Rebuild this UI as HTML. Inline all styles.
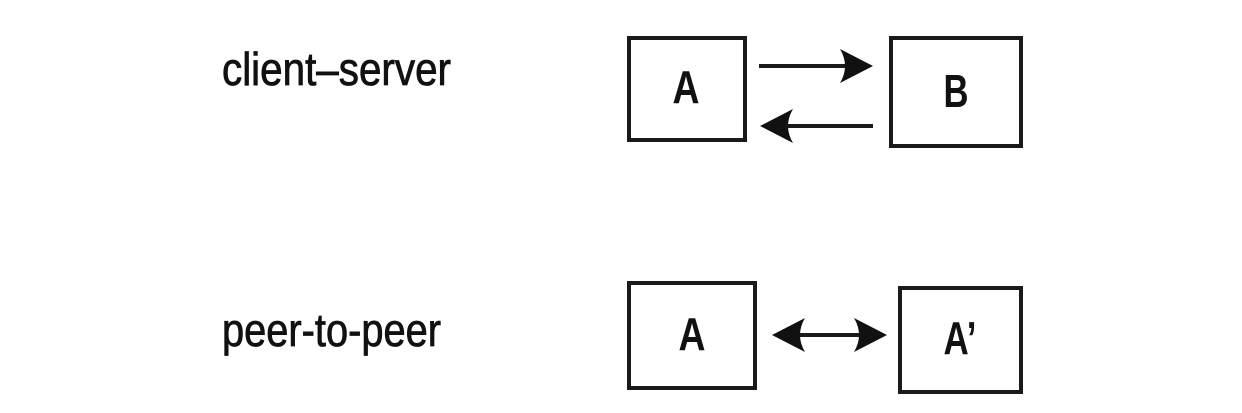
<!DOCTYPE html>
<html><head><meta charset="utf-8"><style>html,body{margin:0;padding:0;background:#fff}svg{display:block}</style></head>
<body>
<svg width="1242" height="413" viewBox="0 0 1242 413" xmlns="http://www.w3.org/2000/svg">
<g font-family="'Liberation Sans Narrow','Liberation Sans',sans-serif" fill="#111">
<text x="222" y="85" font-size="46" stroke="#111" stroke-width="0.8" textLength="229" lengthAdjust="spacingAndGlyphs">client–server</text>
<text x="222" y="346" font-size="46" stroke="#111" stroke-width="0.8" textLength="219" lengthAdjust="spacingAndGlyphs">peer-to-peer</text>
<text x="686" y="103" font-size="46" font-weight="bold" text-anchor="middle" textLength="27" lengthAdjust="spacingAndGlyphs">A</text>
<text x="956" y="107" font-size="46" font-weight="bold" text-anchor="middle" textLength="25" lengthAdjust="spacingAndGlyphs">B</text>
<text x="692" y="350" font-size="46" font-weight="bold" text-anchor="middle" textLength="27" lengthAdjust="spacingAndGlyphs">A</text>
<text x="960" y="354" font-size="46" font-weight="bold" text-anchor="middle" textLength="33" lengthAdjust="spacingAndGlyphs">A’</text>
</g>
<g fill="none" stroke="#1a1a1a" stroke-width="4">
<rect x="629" y="38" width="116" height="102"/>
<rect x="891" y="38" width="130" height="108"/>
<rect x="629" y="283" width="126" height="105"/>
<rect x="900" y="288" width="121" height="104"/>
<line x1="759" y1="66" x2="850" y2="66"/>
<line x1="785" y1="126" x2="873" y2="126"/>
<line x1="795" y1="335" x2="865" y2="335"/>
</g>
<g fill="#111">
<path d="M873 66 L840 49 Q850 66 840 83 Z"/>
<path d="M760 126 L793 109 Q783 126 793 143 Z"/>
<path d="M772 335 L805 318 Q795 335 805 352 Z"/>
<path d="M887 335 L854 318 Q864 335 854 352 Z"/>
</g>
</svg>
</body></html>
